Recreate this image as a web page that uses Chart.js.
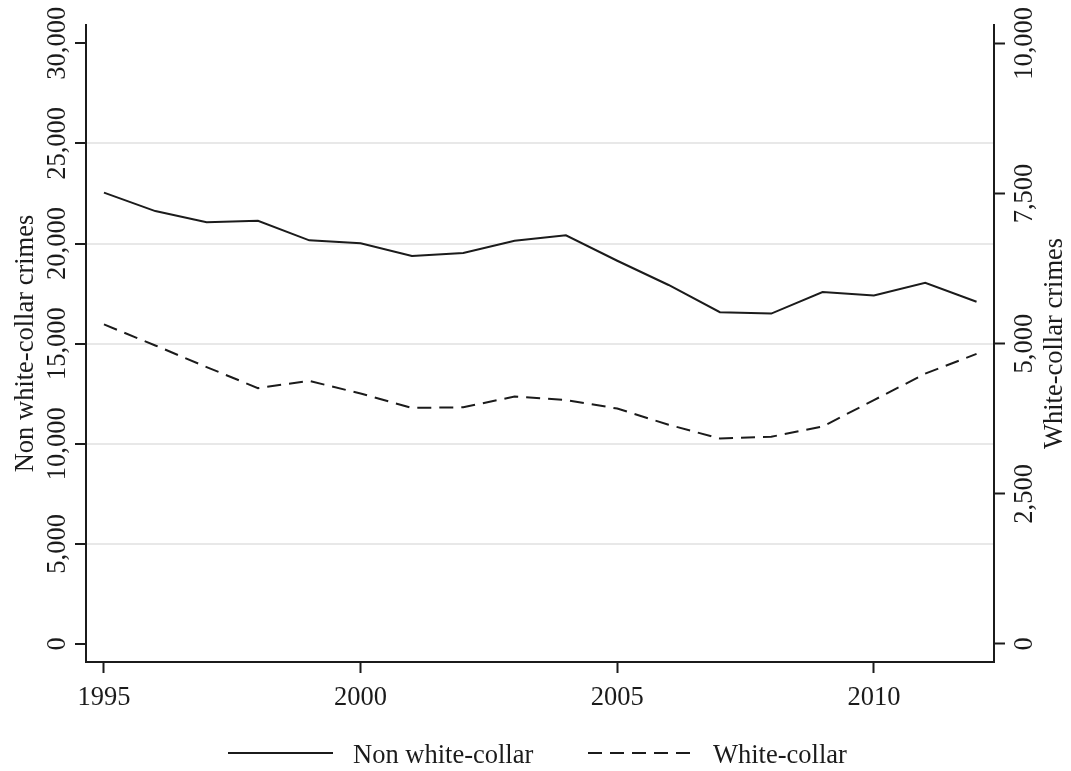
<!DOCTYPE html>
<html>
<head>
<meta charset="utf-8">
<title>Crimes, 1995–2012</title>
<script src="https://cdn.jsdelivr.net/npm/chart.js@4.4.1/dist/chart.umd.min.js"></script>
<style>
  html, body { margin: 0; padding: 0; background: #ffffff; }
  #wrap { width: 1071px; height: 771px; }
</style>
</head>
<body>
<div id="wrap"><canvas id="chart" width="1071" height="771"></canvas></div>
<script>
// Yearly counts
const years = [1995, 1996, 1997, 1998, 1999, 2000, 2001, 2002, 2003, 2004, 2005, 2006, 2007, 2008, 2009, 2010, 2011, 2012];
const nonWhiteCollar = [22540, 21620, 21060, 21140, 20160, 20010, 19380, 19530, 20140, 20410, 19140, 17930, 16570, 16500, 17580, 17410, 18040, 17090];
const whiteCollar = [5320, 4970, 4610, 4260, 4380, 4170, 3930, 3940, 4120, 4060, 3920, 3650, 3420, 3450, 3620, 4060, 4500, 4830];

// Axis ticks
const xTicks = [1995, 2000, 2005, 2010];
const leftTicks = [0, 5000, 10000, 15000, 20000, 25000, 30000];
const rightTicks = [0, 2500, 5000, 7500, 10000];

// Text
const seriesLabels = ['Non white-collar', 'White-collar'];
const axisTitles = ['Non white-collar crimes', 'White-collar crimes'];

const INK = '#1b1b1b';
const FONT = '26.5px "Liberation Serif", "Times New Roman", serif';
const fmt = v => v.toLocaleString('en-US');

// Rotated axis labels, axis titles and the legend row
const textLayer = {
  id: 'textLayer',
  afterDraw(chart) {
    const ctx = chart.ctx;
    const { x, y, y2 } = chart.scales;
    const area = chart.chartArea;
    ctx.save();
    ctx.fillStyle = INK;
    ctx.font = FONT;

    // x tick labels
    ctx.textAlign = 'center';
    ctx.textBaseline = 'alphabetic';
    xTicks.forEach(v => ctx.fillText(String(v), x.getPixelForValue(v), 705));

    // rotated y labels (reading upward)
    const upText = (txt, px, py) => {
      ctx.save();
      ctx.translate(px, py);
      ctx.rotate(-Math.PI / 2);
      ctx.textAlign = 'center';
      ctx.textBaseline = 'alphabetic';
      ctx.fillText(txt, 0, 0);
      ctx.restore();
    };
    leftTicks.forEach(v => upText(fmt(v), 65, y.getPixelForValue(v)));
    rightTicks.forEach(v => upText(fmt(v), 1032, y2.getPixelForValue(v)));

    const midY = (area.top + area.bottom) / 2;
    upText(axisTitles[0], 33, midY);
    upText(axisTitles[1], 1062, midY);

    // legend
    const ds = chart.data.datasets;
    const legendRow = [
      { x0: 228, x1: 333, tx: 353 },
      { x0: 588, x1: 693, tx: 713 }
    ];
    legendRow.forEach((item, i) => {
      ctx.save();
      ctx.strokeStyle = ds[i].borderColor;
      ctx.lineWidth = ds[i].borderWidth;
      ctx.setLineDash(ds[i].borderDash || []);
      ctx.beginPath();
      ctx.moveTo(item.x0, 753);
      ctx.lineTo(item.x1, 753);
      ctx.stroke();
      ctx.restore();
      ctx.textAlign = 'left';
      ctx.textBaseline = 'alphabetic';
      ctx.fillText(ds[i].label, item.tx, 763);
    });
    ctx.restore();
  }
};

const tickOnly = (list) => (scale) => { scale.ticks = list.map(v => ({ value: v })); };

new Chart(document.getElementById('chart'), {
  type: 'line',
  data: {
    datasets: [
      {
        label: seriesLabels[0],
        data: years.map((yr, i) => ({ x: yr, y: nonWhiteCollar[i] })),
        yAxisID: 'y',
        borderColor: INK,
        borderWidth: 2,
        borderDash: [],
        pointRadius: 0,
        tension: 0,
        fill: false
      },
      {
        label: seriesLabels[1],
        data: years.map((yr, i) => ({ x: yr, y: whiteCollar[i] })),
        yAxisID: 'y2',
        borderColor: INK,
        borderWidth: 2,
        borderDash: [14, 8],
        pointRadius: 0,
        tension: 0,
        fill: false
      }
    ]
  },
  options: {
    responsive: false,
    animation: false,
    events: [],
    layout: { padding: { left: 75, right: 66, top: 25, bottom: 98 } },
    plugins: { legend: { display: false }, tooltip: { enabled: false } },
    scales: {
      x: {
        type: 'linear',
        min: 1994.65,
        max: 2012.34,
        afterBuildTicks: tickOnly(xTicks),
        ticks: { display: false },
        grid: { display: true, drawOnChartArea: false, drawTicks: true, tickLength: 11, tickColor: INK, tickWidth: 2 },
        border: { display: true, color: INK, width: 2 }
      },
      y: {
        type: 'linear',
        position: 'left',
        min: -899,
        max: 30914,
        afterBuildTicks: tickOnly(leftTicks),
        ticks: { display: false },
        grid: {
          display: true,
          drawOnChartArea: true,
          drawTicks: true,
          tickLength: 11,
          tickColor: INK,
          tickWidth: 2,
          lineWidth: 2,
          color: ctx => (ctx.tick && (ctx.tick.value === 0 || ctx.tick.value === 30000)) ? 'rgba(0,0,0,0)' : '#e8e8e8'
        },
        border: { display: true, color: INK, width: 2 }
      },
      y2: {
        type: 'linear',
        position: 'right',
        min: -300,
        max: 10305,
        afterBuildTicks: tickOnly(rightTicks),
        ticks: { display: false },
        grid: { display: true, drawOnChartArea: false, drawTicks: true, tickLength: 11, tickColor: INK, tickWidth: 2 },
        border: { display: true, color: INK, width: 2 }
      }
    }
  },
  plugins: [textLayer]
});
</script>
</body>
</html>
